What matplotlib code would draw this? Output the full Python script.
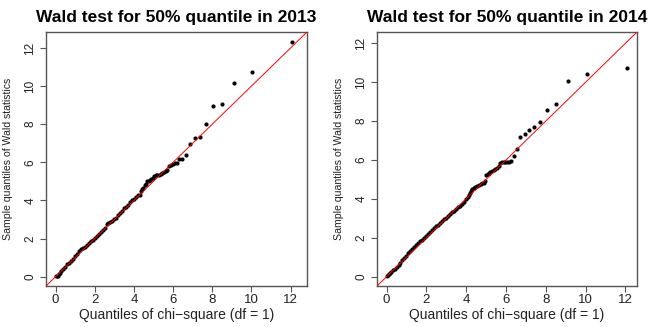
import matplotlib
matplotlib.use('Agg')
import matplotlib.pyplot as plt

plt.rcParams['font.family'] = ['Liberation Sans', 'DejaVu Sans']

#2013 panel : chi-square quantiles vs sample Wald quantiles
q2013 = [0.00, 0.05, 0.10, 0.15, 0.20, 0.30, 0.40, 0.50, 0.60, 0.70, 0.80, 0.90, 1.00, 1.10, 1.20,
	1.30, 1.40, 1.50, 1.60, 1.70, 1.80, 1.90, 2.00, 2.10, 2.20, 2.30, 2.40, 2.50, 2.60, 2.70,
	2.80, 2.90, 3.00, 3.10, 3.20, 3.30, 3.40, 3.50, 3.60, 3.70, 3.80, 3.90, 4.00, 4.10, 4.20,
	4.30, 4.35, 4.41, 4.48, 4.56, 4.62, 4.69, 4.75, 4.81, 4.88, 4.95, 5.03, 5.12, 5.20, 5.28,
	5.36, 5.45, 5.54, 5.62, 5.70, 5.80, 5.90, 5.98, 6.08, 6.18, 6.32, 6.47, 6.68, 6.88, 7.12,
	7.36, 7.68, 8.03, 8.50, 9.10, 10.04, 12.08]
w2013 = [0.02, 0.04, 0.06, 0.12, 0.17, 0.28, 0.40, 0.52, 0.64, 0.72, 0.83, 0.94, 1.06, 1.18, 1.34,
	1.45, 1.52, 1.58, 1.66, 1.76, 1.86, 1.95, 2.05, 2.15, 2.24, 2.36, 2.46, 2.58, 2.74, 2.82,
	2.86, 2.92, 3.00, 3.10, 3.22, 3.34, 3.46, 3.58, 3.68, 3.78, 3.90, 4.02, 4.10, 4.18, 4.26,
	4.30, 4.52, 4.60, 4.66, 4.80, 4.86, 5.00, 5.04, 5.09, 5.14, 5.20, 5.26, 5.33, 5.35, 5.36,
	5.40, 5.45, 5.49, 5.52, 5.62, 5.80, 5.86, 5.92, 5.95, 5.97, 6.16, 6.17, 6.36, 6.95, 7.27,
	7.31, 8.00, 8.95, 9.07, 10.16, 10.75, 12.34]

#2014 panel
q2014 = [0.00, 0.05, 0.10, 0.15, 0.20, 0.30, 0.40, 0.50, 0.60, 0.70, 0.80, 0.90, 1.00, 1.10, 1.20,
	1.30, 1.40, 1.50, 1.60, 1.70, 1.80, 1.90, 2.00, 2.10, 2.20, 2.30, 2.40, 2.50, 2.60, 2.70,
	2.80, 2.90, 3.00, 3.10, 3.20, 3.30, 3.40, 3.50, 3.60, 3.70, 3.80, 3.90, 4.00, 4.08, 4.15,
	4.20, 4.25, 4.30, 4.38, 4.46, 4.55, 4.64, 4.72, 4.80, 4.88, 4.95, 5.02, 5.08, 5.15, 5.22,
	5.30, 5.38, 5.46, 5.55, 5.64, 5.72, 5.80, 5.88, 5.96, 6.05, 6.14, 6.24, 6.38, 6.54, 6.72,
	6.93, 7.14, 7.40, 7.70, 8.06, 8.53, 9.12, 10.06, 12.08]
w2014 = [0.03, 0.08, 0.14, 0.20, 0.25, 0.33, 0.40, 0.50, 0.60, 0.72, 0.84, 0.96, 1.08, 1.20, 1.32,
	1.44, 1.54, 1.64, 1.74, 1.82, 1.90, 1.99, 2.08, 2.18, 2.28, 2.38, 2.48, 2.58, 2.68, 2.78,
	2.88, 2.96, 3.04, 3.12, 3.21, 3.30, 3.40, 3.50, 3.58, 3.65, 3.74, 3.86, 3.98, 4.10, 4.18,
	4.30, 4.42, 4.50, 4.56, 4.62, 4.67, 4.71, 4.76, 4.80, 4.84, 4.90, 5.22, 5.28, 5.34, 5.40,
	5.44, 5.50, 5.55, 5.60, 5.70, 5.82, 5.90, 5.92, 5.92, 5.92, 5.92, 5.93, 6.20, 6.58, 7.19,
	7.32, 7.54, 7.68, 7.93, 8.57, 8.89, 10.04, 10.44, 10.73]

ticks = [0, 2, 4, 6, 8, 10, 12]
panels = [
	('Wald test for 50% quantile in 2013', q2013, w2013, (-0.49, 12.84), [46, 307]),
	('Wald test for 50% quantile in 2014', q2014, w2014, (-0.48, 12.58), [377, 637]),
]

W, H = 661, 327
fig = plt.figure(figsize=(W / 100, H / 100), dpi=100)

for title, q, w, lim, (x0, x1) in panels:
	ax = fig.add_axes([x0 / W, 1 - 286 / H, (x1 - x0) / W, 254 / H])
	ax.plot(q, w, 'o', color='black', markersize=3.0, markeredgewidth=0, zorder=2)
	ax.axline((0, 0), slope=1, color='red', linewidth=0.7, zorder=3) #reference line y = x
	ax.set_xlim(lim)
	ax.set_ylim(lim)
	ax.set_xticks(ticks)
	ax.set_yticks(ticks)
	for s in ax.spines.values():
		s.set_color('#555555')
		s.set_linewidth(1.0)
	ax.tick_params(axis='both', color='#555555', length=4, width=0.8, labelcolor='#222222')
	ax.tick_params(axis='x', pad=1.5, labelsize=9.5)
	ax.tick_params(axis='y', pad=3, labelsize=8.5)
	for lbl in ax.get_yticklabels():
		lbl.set_rotation(90)
		lbl.set_va('center')
	ax.set_title(title, fontsize=12.5, fontweight='bold', pad=7)
	ax.set_xlabel('Quantiles of chi\u2212square (df = 1)', fontsize=10, color='#222222', labelpad=2)
	ax.set_ylabel('Sample quantiles of Wald statistics', fontsize=7.6, color='#222222', labelpad=8)

fig.savefig('out.png', dpi=100)
